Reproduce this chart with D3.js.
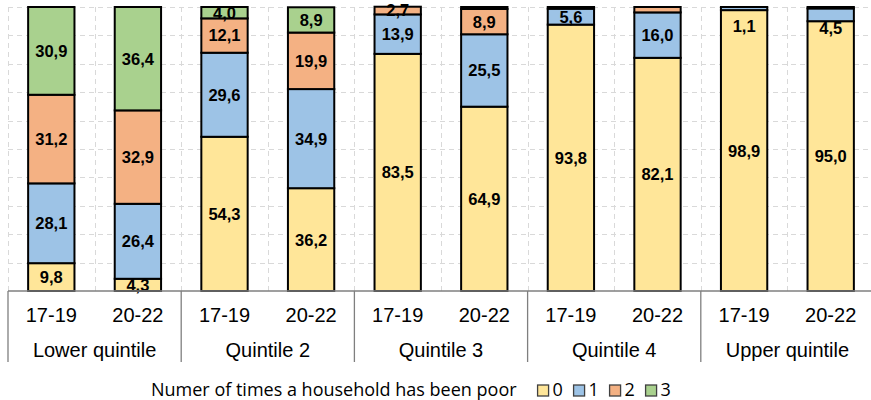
<!DOCTYPE html>
<html>
<head>
<meta charset="utf-8">
<script src="https://cdn.jsdelivr.net/npm/d3@7"></script>
<style>
  body { margin: 0; background: #fff; }
  svg { display: block; }
</style>
</head>
<body>
<svg id="chart" width="871" height="400"></svg>
<script>
// data (share of households, %)
const groups = ["Lower quintile", "Quintile 2", "Quintile 3", "Quintile 4", "Upper quintile"];
const periods = ["17-19", "20-22"];
const seriesNames = ["0", "1", "2", "3"];
const times0 = [9.8, 4.3, 54.3, 36.2, 83.5, 64.9, 93.8, 82.1, 98.9, 95.0];
const times1 = [28.1, 26.4, 29.6, 34.9, 13.9, 25.5, 5.6, 16.0, 1.1, 4.5];
const times2 = [31.2, 32.9, 12.1, 19.9, 2.7, 8.9, 0.6, 1.9, 0, 0.5];
const times3 = [30.9, 36.4, 4.0, 8.9, 0, 0.7, 0, 0, 0, 0];
const legendTitle = "Numer of times a household has been poor";

const colors = ["#FFE699", "#9DC3E6", "#F4B183", "#A9D18E"];

// labels Excel didn't show / labels moved by hand
const hiddenLabels = ["Quintile 4|20-22|2"];
const labelNudge = { "Upper quintile|17-19|1": 17, "Upper quintile|20-22|1": 13 };

const rows = [];
groups.forEach((g, gi) => periods.forEach((p, pi) => {
  const i = gi * periods.length + pi;
  rows.push({ key: g + "|" + p, group: g, period: p,
    "0": times0[i], "1": times1[i], "2": times2[i], "3": times3[i] });
}));

const svg = d3.select("#chart");
const m = { left: 8, right: 874, top: 7, bottom: 291 };

const x = d3.scaleBand().domain(rows.map(d => d.key)).range([m.left, m.right]).paddingInner(0).paddingOuter(0);
const y = d3.scaleLinear().domain([0, 100]).range([m.bottom, m.top]);
const barW = x.bandwidth() * 0.535;

// dashed grid
const grid = svg.append("g").attr("stroke", "#D9D9D9").attr("stroke-width", 1).attr("stroke-dasharray", "5,4");
grid.selectAll("line.h").data(d3.range(10, 101, 10)).join("line")
  .attr("x1", m.left).attr("x2", m.right).attr("y1", d => Math.round(y(d)) + 0.5).attr("y2", d => Math.round(y(d)) + 0.5);
grid.selectAll("line.v").data(rows).join("line")
  .attr("x1", d => Math.round(x(d.key)) + 0.5).attr("x2", d => Math.round(x(d.key)) + 0.5)
  .attr("y1", m.top).attr("y2", m.bottom);

const stacked = d3.stack().keys(seriesNames)(rows);

const bars = svg.append("g");
stacked.forEach((s, si) => {
  bars.selectAll(null).data(s.filter(d => d[1] - d[0] > 0)).join("rect")
    .attr("x", d => x(d.data.key) + (x.bandwidth() - barW) / 2)
    .attr("width", barW)
    .attr("y", d => y(d[1]))
    .attr("height", d => y(d[0]) - y(d[1]))
    .attr("fill", colors[si])
    .attr("stroke", "#000")
    .attr("stroke-width", 2);
});

// value labels
const labels = svg.append("g")
  .attr("font-family", "'Liberation Sans', Arial, sans-serif")
  .attr("font-weight", "bold").attr("font-size", 16.5).attr("text-anchor", "middle");
stacked.forEach((s, si) => {
  s.forEach(d => {
    const v = d[1] - d[0];
    const id = d.data.key + "|" + si;
    if (v < 1 || hiddenLabels.includes(id)) return;
    labels.append("text")
      .attr("x", x(d.data.key) + x.bandwidth() / 2)
      .attr("y", (y(d[0]) + y(d[1])) / 2 + (labelNudge[id] || 0))
      .attr("dy", "0.36em")
      .text(d3.format(".1f")(v).replace(".", ","));
  });
});

// category axis
const axis = svg.append("g").attr("stroke", "#7F7F7F").attr("stroke-width", 1.3);
axis.append("line").attr("x1", m.left).attr("x2", m.right).attr("y1", m.bottom).attr("y2", m.bottom);
const gW = (m.right - m.left) / groups.length;
axis.selectAll("line.sep").data(d3.range(groups.length + 1)).join("line")
  .attr("x1", i => m.left + i * gW).attr("x2", i => m.left + i * gW)
  .attr("y1", m.bottom).attr("y2", 362);

const axText = svg.append("g")
  .attr("font-family", "'Liberation Sans', Arial, sans-serif")
  .attr("font-size", 20).attr("fill", "#000").attr("text-anchor", "middle");
axText.selectAll("text.p").data(rows).join("text")
  .attr("x", d => x(d.key) + x.bandwidth() / 2).attr("y", 322).text(d => d.period);
axText.selectAll("text.g").data(groups).join("text")
  .attr("x", (g, i) => m.left + (i + 0.5) * gW).attr("y", 357).text(g => g);

// legend
const leg = svg.append("g").attr("font-family", "'Open Sans', 'Noto Sans', sans-serif").attr("font-size", 18);
const title = leg.append("text").attr("x", 151).attr("y", 396).text(legendTitle);
const tEnd = 151 + title.node().getComputedTextLength();
const item = leg.selectAll("g.it").data(seriesNames).join("g")
  .attr("transform", (d, i) => `translate(${tEnd + 21 + i * 36},0)`);
item.append("rect").attr("x", 0).attr("y", 385).attr("width", 11).attr("height", 11)
  .attr("fill", (d, i) => colors[i]).attr("stroke", "#404040").attr("stroke-width", 1.3);
item.append("text").attr("x", 15).attr("y", 396).text(d => d);
</script>
</body>
</html>
